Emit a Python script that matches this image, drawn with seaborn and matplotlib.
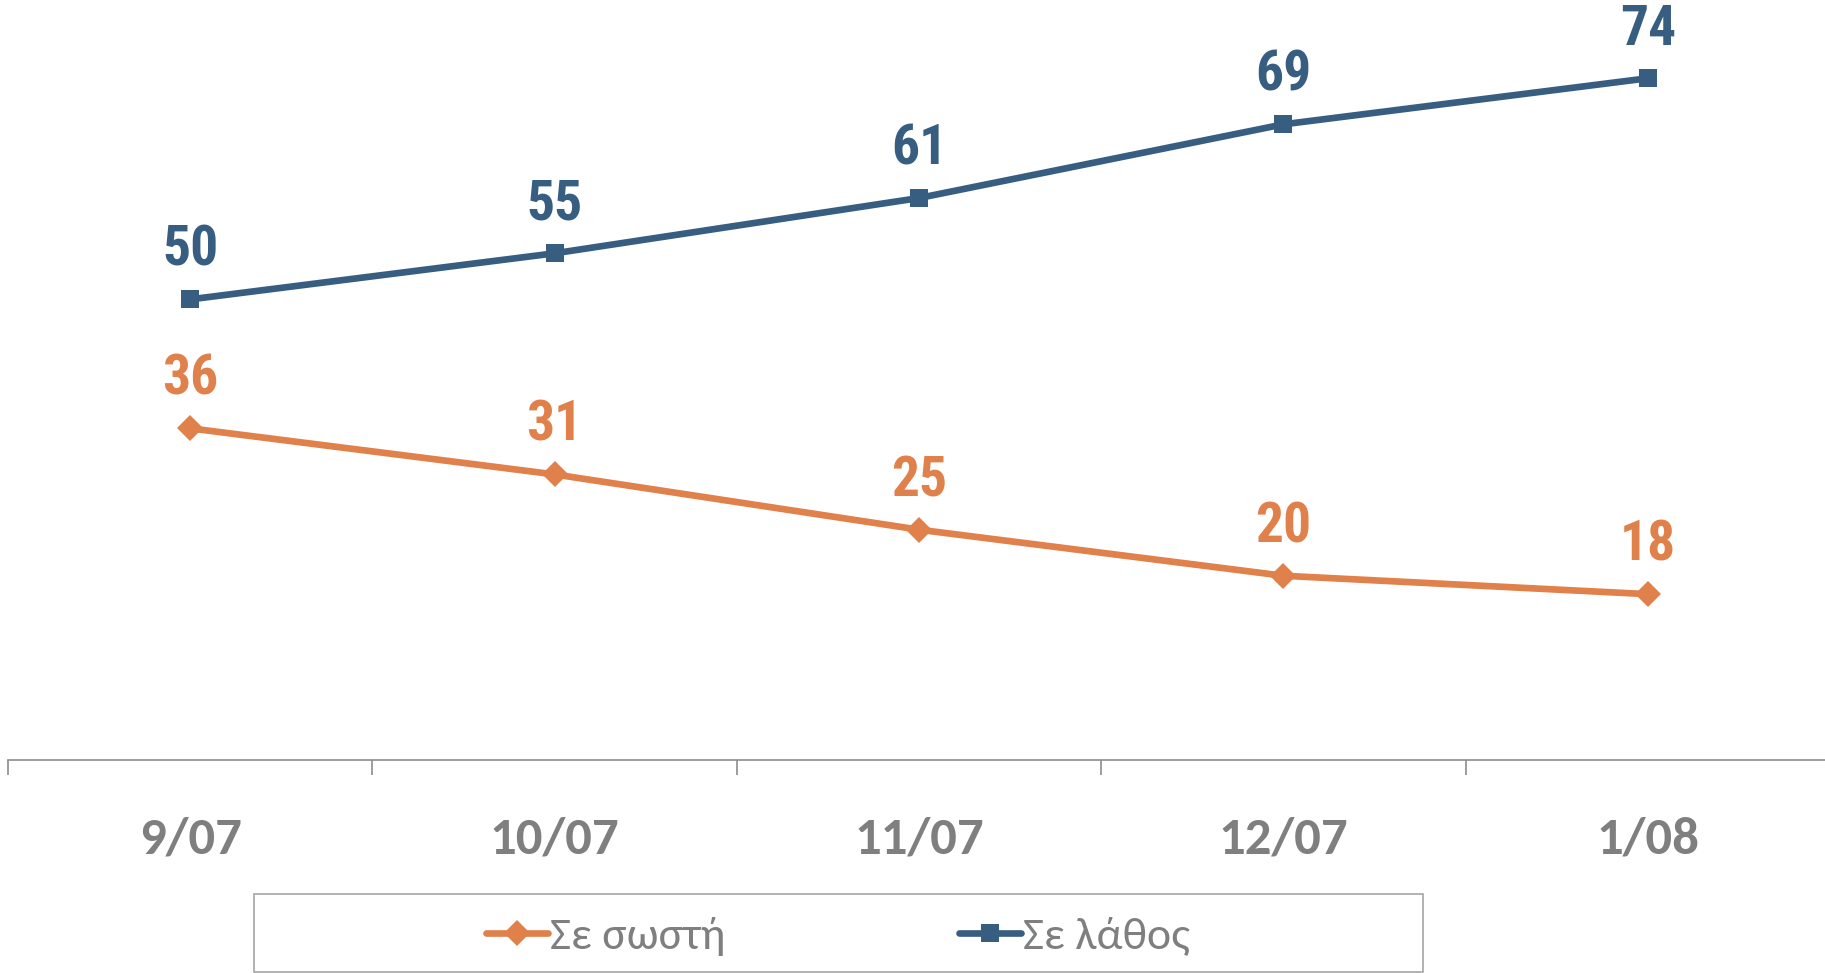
import matplotlib
matplotlib.use("Agg")
import matplotlib.pyplot as plt
import matplotlib.patches as mpatches
from matplotlib.lines import Line2D
import seaborn as sns
import pandas as pd

categories = ["9/07", "10/07", "11/07", "12/07", "1/08"]
series_names = ["Σε σωστή", "Σε λάθος"]
correct = [36, 31, 25, 20, 18]
wrong = [50, 55, 61, 69, 74]

colors = {"Σε σωστή": "#E0804A", "Σε λάθος": "#375E80"}
markers = {"Σε σωστή": "D", "Σε λάθος": "s"}

sns.set_theme(style="white")
plt.rcParams["font.family"] = ["Carlito", "Open Sans", "DejaVu Sans"]

rows = []
for name, vals in zip(series_names, [correct, wrong]):
    for i, (c, v) in enumerate(zip(categories, vals)):
        rows.append({"pos": i, "cat": c, "value": v, "series": name})
df = pd.DataFrame(rows)

fig = plt.figure(figsize=(18.25, 9.73), dpi=100)
ax = fig.add_axes([8 / 1825, (973 - 760) / 973, 1822 / 1825, (760 - 23) / 973])

LW = 4.8
MS = 13
sns.lineplot(data=df, x="pos", y="value", hue="series", style="series",
             palette=colors, markers=markers, dashes=False, linewidth=LW,
             markersize=MS, markeredgewidth=0, ax=ax, legend=False)

label_font = ["Roboto Condensed", "DejaVu Sans"]
for name, vals in zip(series_names, [correct, wrong]):
    for i, v in enumerate(vals):
        ax.annotate(str(v), (i, v), xytext=(0, 35), textcoords="offset points",
                    ha="center", va="center", fontsize=40, fontweight="bold",
                    color=colors[name], family=label_font, annotation_clip=False)

ax.set_xlim(-0.5, 4.5)
ax.set_ylim(0, 80)
ax.set_xticks(range(len(categories)))
ax.set_xticklabels(categories)
ax.set_xticks([i - 0.5 for i in range(len(categories) + 1)], minor=True)
ax.tick_params(axis="x", which="major", length=0, pad=41, labelsize=38,
               labelcolor="#7F7F7F")
ax.tick_params(axis="x", which="minor", length=11, width=1.2, color="#8C8C8C",
               direction="out", bottom=True)
for lab in ax.get_xticklabels():
    lab.set_fontweight("bold")
ax.set_yticks([])
ax.set_xlabel("")
ax.set_ylabel("")
for s in ["top", "right", "left"]:
    ax.spines[s].set_visible(False)
ax.spines["bottom"].set_color("#8C8C8C")
ax.spines["bottom"].set_linewidth(1.2)

# legend frame
rect = mpatches.Rectangle((254 / 1825, 1 / 973), (1423 - 254) / 1825, (973 - 895) / 973,
                          transform=fig.transFigure, fill=False,
                          edgecolor="#A6A6A6", linewidth=1.2)
fig.patches.append(rect)

handles = [Line2D([0], [0], color=colors[n], marker=markers[n], linewidth=LW,
                  markersize=MS, markeredgewidth=0) for n in series_names]
leg = fig.legend(handles, series_names, loc="center",
                 bbox_to_anchor=(838 / 1825, (973 - 936) / 973),
                 ncol=2, frameon=False, fontsize=33, handlelength=1.35,
                 handletextpad=0.05, columnspacing=5.1)
for t in leg.get_texts():
    t.set_color("#7F7F7F")

fig.savefig("out.png", dpi=100, facecolor="white")
